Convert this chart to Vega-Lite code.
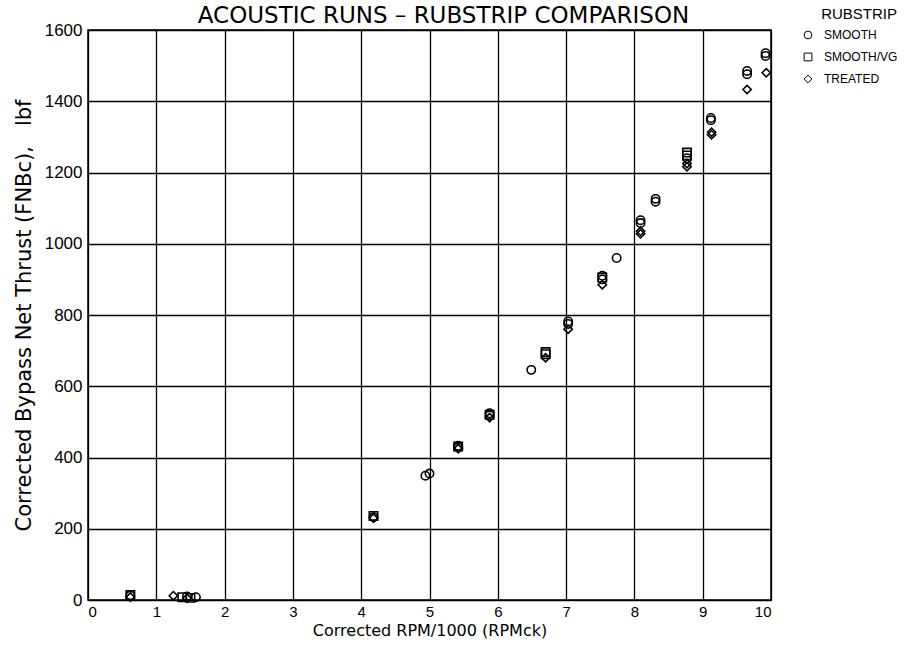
{
  "$schema": "https://vega.github.io/schema/vega-lite/v6.json",
  "width": 683,
  "height": 570,
  "autosize": "none",
  "padding": {"left": 88, "top": 30, "right": 138, "bottom": 53},
  "background": "white",
  "title": {
    "text": "ACOUSTIC RUNS \u2013 RUBSTRIP COMPARISON",
    "font": "DejaVu Sans",
    "fontSize": 23,
    "fontWeight": "normal",
    "color": "black",
    "anchor": "middle",
    "frame": "group",
    "dx": 14,
    "offset": -21
  },
  "config": {
    "font": "Liberation Sans",
    "view": {"stroke": "black", "strokeWidth": 1.5},
    "axis": {
      "domain": false,
      "ticks": false,
      "grid": true,
      "gridColor": "black",
      "gridWidth": 1.3,
      "gridOpacity": 1,
      "labelFont": "Liberation Sans",
      "labelFontSize": 17,
      "labelColor": "black",
      "titleFont": "DejaVu Sans",
      "titleFontWeight": "normal",
      "titleColor": "black"
    }
  },
  "data": {
    "values": [
      {"rpm": 0.62, "thrust": 12, "rubstrip": "SMOOTH"},
      {"rpm": 1.45, "thrust": 10, "rubstrip": "SMOOTH"},
      {"rpm": 1.58, "thrust": 8, "rubstrip": "SMOOTH"},
      {"rpm": 4.18, "thrust": 232, "rubstrip": "SMOOTH"},
      {"rpm": 4.94, "thrust": 349, "rubstrip": "SMOOTH"},
      {"rpm": 5.0, "thrust": 355, "rubstrip": "SMOOTH"},
      {"rpm": 5.42, "thrust": 433, "rubstrip": "SMOOTH"},
      {"rpm": 5.42, "thrust": 428, "rubstrip": "SMOOTH"},
      {"rpm": 5.88, "thrust": 524, "rubstrip": "SMOOTH"},
      {"rpm": 5.88, "thrust": 518, "rubstrip": "SMOOTH"},
      {"rpm": 6.49, "thrust": 646, "rubstrip": "SMOOTH"},
      {"rpm": 7.03, "thrust": 782, "rubstrip": "SMOOTH"},
      {"rpm": 7.03, "thrust": 775, "rubstrip": "SMOOTH"},
      {"rpm": 7.53, "thrust": 910, "rubstrip": "SMOOTH"},
      {"rpm": 7.53, "thrust": 900, "rubstrip": "SMOOTH"},
      {"rpm": 7.74, "thrust": 960, "rubstrip": "SMOOTH"},
      {"rpm": 8.09, "thrust": 1066, "rubstrip": "SMOOTH"},
      {"rpm": 8.09, "thrust": 1058, "rubstrip": "SMOOTH"},
      {"rpm": 8.31, "thrust": 1126, "rubstrip": "SMOOTH"},
      {"rpm": 8.31, "thrust": 1118, "rubstrip": "SMOOTH"},
      {"rpm": 8.77, "thrust": 1240, "rubstrip": "SMOOTH"},
      {"rpm": 9.12, "thrust": 1353, "rubstrip": "SMOOTH"},
      {"rpm": 9.12, "thrust": 1347, "rubstrip": "SMOOTH"},
      {"rpm": 9.65, "thrust": 1485, "rubstrip": "SMOOTH"},
      {"rpm": 9.65, "thrust": 1476, "rubstrip": "SMOOTH"},
      {"rpm": 9.92, "thrust": 1535, "rubstrip": "SMOOTH"},
      {"rpm": 9.92, "thrust": 1527, "rubstrip": "SMOOTH"},
      {"rpm": 0.62, "thrust": 14, "rubstrip": "SMOOTH/VG"},
      {"rpm": 1.38, "thrust": 8, "rubstrip": "SMOOTH/VG"},
      {"rpm": 1.5, "thrust": 6, "rubstrip": "SMOOTH/VG"},
      {"rpm": 4.18, "thrust": 236, "rubstrip": "SMOOTH/VG"},
      {"rpm": 5.42, "thrust": 431, "rubstrip": "SMOOTH/VG"},
      {"rpm": 5.88, "thrust": 520, "rubstrip": "SMOOTH/VG"},
      {"rpm": 6.7, "thrust": 696, "rubstrip": "SMOOTH/VG"},
      {"rpm": 6.7, "thrust": 690, "rubstrip": "SMOOTH/VG"},
      {"rpm": 7.53, "thrust": 905, "rubstrip": "SMOOTH/VG"},
      {"rpm": 8.77, "thrust": 1256, "rubstrip": "SMOOTH/VG"},
      {"rpm": 8.77, "thrust": 1248, "rubstrip": "SMOOTH/VG"},
      {"rpm": 0.62, "thrust": 8, "rubstrip": "TREATED"},
      {"rpm": 1.25, "thrust": 12, "rubstrip": "TREATED"},
      {"rpm": 1.45, "thrust": 5, "rubstrip": "TREATED"},
      {"rpm": 4.18, "thrust": 230, "rubstrip": "TREATED"},
      {"rpm": 5.42, "thrust": 425, "rubstrip": "TREATED"},
      {"rpm": 5.88, "thrust": 512, "rubstrip": "TREATED"},
      {"rpm": 6.7, "thrust": 680, "rubstrip": "TREATED"},
      {"rpm": 7.03, "thrust": 760, "rubstrip": "TREATED"},
      {"rpm": 7.53, "thrust": 885, "rubstrip": "TREATED"},
      {"rpm": 8.09, "thrust": 1035, "rubstrip": "TREATED"},
      {"rpm": 8.09, "thrust": 1028, "rubstrip": "TREATED"},
      {"rpm": 8.77, "thrust": 1225, "rubstrip": "TREATED"},
      {"rpm": 8.77, "thrust": 1216, "rubstrip": "TREATED"},
      {"rpm": 9.13, "thrust": 1313, "rubstrip": "TREATED"},
      {"rpm": 9.13, "thrust": 1306, "rubstrip": "TREATED"},
      {"rpm": 9.65, "thrust": 1433, "rubstrip": "TREATED"},
      {"rpm": 9.93, "thrust": 1480, "rubstrip": "TREATED"}
    ]
  },
  "mark": {"type": "point", "filled": false, "stroke": "black", "strokeWidth": 1.6, "size": 70, "opacity": 1},
  "encoding": {
    "x": {
      "field": "rpm",
      "type": "quantitative",
      "title": "Corrected RPM/1000 (RPMck)",
      "scale": {"domain": [0, 10], "nice": false, "zero": false},
      "axis": {"values": [0, 1, 2, 3, 4, 5, 6, 7, 8, 9, 10], "format": "d", "labelFontSize": 15, "labelPadding": 4, "titlePadding": 3, "titleFontSize": 16}
    },
    "y": {
      "field": "thrust",
      "type": "quantitative",
      "title": "Corrected Bypass Net Thrust (FNBc),\u00a0\u00a0 lbf",
      "scale": {"domain": [0, 1600], "nice": false},
      "axis": {"values": [0, 200, 400, 600, 800, 1000, 1200, 1400, 1600], "format": "d", "labelPadding": 6, "titlePadding": 10, "titleFontSize": 21}
    },
    "shape": {
      "field": "rubstrip",
      "type": "nominal",
      "scale": {"domain": ["SMOOTH", "SMOOTH/VG", "TREATED"], "range": ["circle", "square", "diamond"]},
      "legend": {
        "title": "RUBSTRIP",
        "orient": "none",
        "legendX": 714,
        "legendY": -23,
        "titleFont": "Liberation Sans",
        "titleFontSize": 15,
        "titleFontWeight": "normal",
        "titleColor": "black",
        "titleAnchor": "end",
        "labelFont": "Liberation Sans",
        "labelFontSize": 12,
        "labelColor": "black",
        "labelOffset": 10,
        "symbolStrokeColor": "black",
        "symbolFillColor": "white",
        "symbolStrokeWidth": 1,
        "symbolSize": 60,
        "rowPadding": 10,
        "titlePadding": 7
      }
    }
  }
}
